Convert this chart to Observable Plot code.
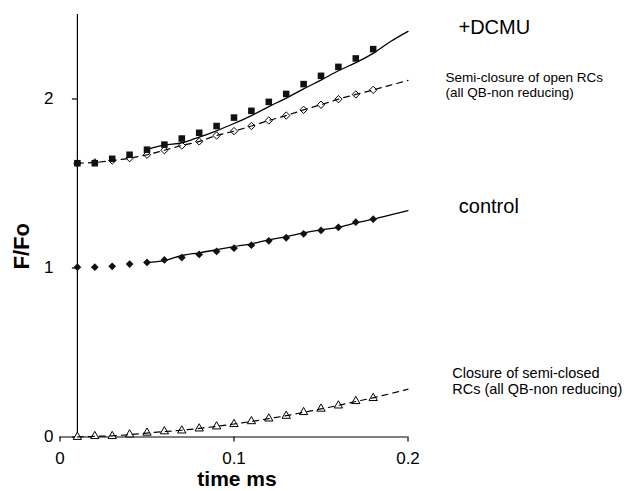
<!DOCTYPE html>
<html>
<head>
<meta charset="utf-8">
<script src="https://cdn.jsdelivr.net/npm/d3@7"></script>
<script src="https://cdn.jsdelivr.net/npm/@observablehq/plot@0.6"></script>
<style>
  html, body { margin: 0; padding: 0; background: #fff; }
  svg { display: block; }
</style>
</head>
<body>
<div id="chart"></div>
<script>
// measured time points (ms)
const pointTime = [0.01,0.02,0.03,0.04,0.05,0.06,0.07,0.08,0.09,0.10,0.11,0.12,0.13,0.14,0.15,0.16,0.17,0.18];
// +DCMU (filled squares)
const dcmuPoints = [1.62,1.62,1.646,1.67,1.70,1.73,1.766,1.80,1.84,1.89,1.93,1.983,2.03,2.088,2.137,2.19,2.24,2.295];
// semi-closure of open RCs (open diamonds)
const semiPoints = [1.62,1.625,1.636,1.65,1.67,1.697,1.725,1.749,1.784,1.81,1.84,1.873,1.902,1.936,1.966,1.999,2.027,2.054];
// control (filled diamonds)
const controlPoints = [1.005,1.005,1.01,1.023,1.033,1.048,1.062,1.08,1.098,1.117,1.135,1.161,1.179,1.202,1.222,1.241,1.271,1.289];
// closure of semi-closed RCs (open triangles)
const closurePoints = [0,0.005,0.005,0.015,0.025,0.033,0.038,0.05,0.062,0.076,0.093,0.109,0.125,0.147,0.167,0.186,0.212,0.23];

// fitted curves
const solidFitTime = [0.05,0.06,0.07,0.08,0.09,0.10,0.11,0.12,0.13,0.14,0.15,0.16,0.17,0.18,0.19,0.20];
const dcmuFit = [1.70,1.728,1.74,1.775,1.812,1.855,1.902,1.955,2.005,2.06,2.112,2.167,2.215,2.27,2.34,2.40];
const controlFit = [1.033,1.044,1.074,1.09,1.108,1.127,1.143,1.167,1.186,1.208,1.226,1.241,1.267,1.289,1.315,1.34];
const dashFitTime = [0.01,0.02,0.03,0.04,0.05,0.06,0.07,0.08,0.09,0.10,0.11,0.12,0.13,0.14,0.15,0.16,0.17,0.18,0.19,0.20];
const semiFit = [1.62,1.625,1.636,1.65,1.67,1.697,1.725,1.749,1.784,1.81,1.84,1.873,1.902,1.936,1.966,1.999,2.027,2.054,2.082,2.11];
const closureFit = [0,0.004,0.007,0.014,0.023,0.032,0.04,0.051,0.063,0.077,0.092,0.109,0.126,0.146,0.166,0.187,0.21,0.232,0.257,0.283];

const xTicks = [0, 0.1, 0.2];
const yTicks = [0, 1, 2];
const yAxisAt = 0.01;

const pts = (ys) => pointTime.map((t, i) => ({t, v: ys[i]}));
const fit = (ts, ys) => ts.map((t, i) => ({t, v: ys[i]}));

const FONT = "Liberation Sans, Arial, Helvetica, sans-serif";

const chart = Plot.plot({
  width: 636,
  height: 491,
  marginLeft: 59.5,
  marginRight: 228.5,
  marginTop: 14,
  marginBottom: 54.5,
  style: {fontFamily: FONT, background: "#fff", color: "#000", overflow: "visible"},
  x: {domain: [0, 0.2]},
  y: {domain: [0, 2.5]},
  marks: [
    // axes lines
    Plot.ruleY([0], {x1: 0, x2: 0.2, stroke: "#000", strokeWidth: 1.2}),
    Plot.ruleX([yAxisAt], {y1: 0, y2: 2.5, stroke: "#000", strokeWidth: 1.2}),
    Plot.axisX({ticks: xTicks, tickSize: 5, tickPadding: 10, fontSize: 17, label: null, tickFormat: d => String(d), strokeWidth: 1.2}),
    Plot.axisY({ticks: yTicks, tickSize: 5, tickPadding: 19, dx: 17.4, fontSize: 17, label: null, tickFormat: d => String(d), strokeWidth: 1.2}),
    // open diamonds (semi-closure)
    Plot.dot(pts(semiPoints), {x: "t", y: "v", symbol: "diamond2", r: 3.3, fill: "#fff", stroke: "#000", strokeWidth: 1}),
    // open triangles (closure)
    Plot.dot(pts(closurePoints), {x: "t", y: "v", symbol: "triangle", r: 3.1, fill: "#fff", stroke: "#000", strokeWidth: 1}),
    // dashed fits
    Plot.line(fit(dashFitTime, semiFit), {x: "t", y: "v", stroke: "#000", strokeWidth: 1.2, strokeDasharray: "6,5", curve: "monotone-x"}),
    Plot.line(fit(dashFitTime, closureFit), {x: "t", y: "v", stroke: "#000", strokeWidth: 1.2, strokeDasharray: "6,5", curve: "monotone-x"}),
    // solid fits
    Plot.line(fit(solidFitTime, dcmuFit), {x: "t", y: "v", stroke: "#000", strokeWidth: 1.3, curve: "monotone-x"}),
    Plot.line(fit(solidFitTime, controlFit), {x: "t", y: "v", stroke: "#000", strokeWidth: 1.3, curve: "monotone-x"}),
    // filled markers
    Plot.dot(pts(dcmuPoints), {x: "t", y: "v", symbol: "square", r: 3.7, fill: "#111", stroke: "none"}),
    Plot.dot(pts(controlPoints), {x: "t", y: "v", symbol: "diamond2", r: 3.5, fill: "#111", stroke: "none"}),
    // axis labels
    Plot.text(["F/Fo"], {frameAnchor: "left", dx: -38.5, dy: 43.75, rotate: -90, fontSize: 22, fontWeight: "bold", fill: "#000"}),
    Plot.text(["time ms"], {frameAnchor: "bottom", dx: 3, dy: 48.5, lineAnchor: "bottom", fontSize: 21, fontWeight: "bold", fill: "#000"}),
    // annotations
    Plot.text(["+DCMU"], {frameAnchor: "top-right", textAnchor: "start", lineAnchor: "bottom", dx: 50.5, dy: 19, fontSize: 20, fill: "#000"}),
    Plot.text(["Semi-closure of open RCs\n(all QB-non reducing)"], {frameAnchor: "top-right", textAnchor: "start", lineAnchor: "bottom", dx: 37.5, dy: 82.7, fontSize: 13.5, lineHeight: 1.09, fill: "#000"}),
    Plot.text(["control"], {frameAnchor: "top-right", textAnchor: "start", lineAnchor: "bottom", dx: 50.8, dy: 198, fontSize: 20, fill: "#000"}),
    Plot.text(["Closure of semi-closed\nRCs (all QB-non reducing)"], {frameAnchor: "top-right", textAnchor: "start", lineAnchor: "bottom", dx: 44.2, dy: 379.5, fontSize: 14.5, lineHeight: 1.09, fill: "#000"})
  ]
});
document.getElementById("chart").append(chart);
</script>
</body>
</html>
